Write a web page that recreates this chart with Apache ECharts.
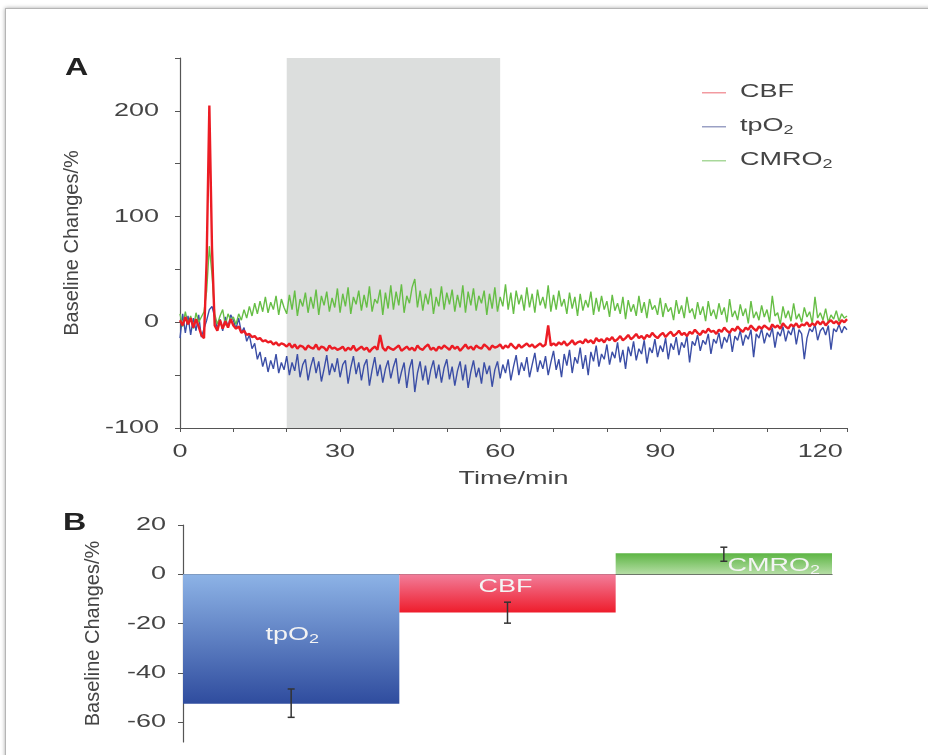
<!DOCTYPE html>
<html>
<head>
<meta charset="utf-8">
<script src="https://cdn.jsdelivr.net/npm/echarts@6/dist/echarts.min.js"></script>
<style>
  html, body { margin: 0; padding: 0; background: #fff; overflow: hidden; }
  #frame { position: absolute; left: 5px; top: 8px; width: 940px; height: 770px; border: 1px solid #b5b5b5; box-shadow: 0 0 4px rgba(0,0,0,0.35); }
  #chart { position: absolute; left: 0; top: 0; width: 928px; height: 755px; }
</style>
</head>
<body>
<div id="frame"></div>
<div id="chart"></div>
<script>
// ---------- Panel A data (sampled every 0.5 min, 0..125 min) ----------
const timeStepMin = 0.5;
const cbf = [
  2, -3, 5, -2, 4, -5, 3, -4, -12, -15, 60, 205, 70, -3, -8, 2, -6, 1, -5, 3,
  -3, -6, -4, -10, -8, -12, -11, -14, -13, -16, -15, -18, -17, -19, -18, -21, -19, -22, -20, -21,
  -23, -20, -24, -21, -25, -22, -23, -26, -22, -24, -25, -21, -26, -23, -24, -27, -22, -25, -24, -26,
  -25, -23, -27, -24, -26, -22, -27, -25, -23, -26, -24, -28, -25, -23, -26, -12, -24, -27, -23, -25,
  -26, -24, -22, -27, -25, -23, -26, -24, -27, -22, -25, -26, -23, -21, -26, -24, -27, -23, -25, -22,
  -24, -26, -22, -25, -23, -27, -24, -21, -25, -23, -26, -22, -24, -25, -21, -23, -26, -22, -24, -23,
  -21, -25, -22, -24, -20, -23, -25, -21, -24, -22, -20, -23, -21, -24, -22, -20, -23, -21, -3, -22,
  -20, -22, -19, -21, -18, -22, -20, -17, -21, -19, -18, -20, -16, -19, -17, -20, -15, -18, -16, -19,
  -15, -17, -14, -18, -16, -13, -17, -15, -12, -16, -14, -11, -15, -13, -16, -12, -14, -10, -13, -15,
  -12, -10, -14, -11, -9, -13, -11, -8, -12, -10, -13, -9, -11, -7, -10, -12, -8, -10, -6, -9,
  -8, -11, -7, -9, -5, -8, -10, -6, -8, -4, -7, -9, -5, -7, -3, -6, -8, -4, -6, -3,
  -5, -7, -2, -5, -3, -6, -1, -4, -6, -2, -4, -1, -5, -2, -3, 0, -4, -1, -3, 1,
  -2, 1, -3, 0, 2, -1, 1, -2, 2, 0, 3
];
const tpo2 = [
  -15, 8, -10, 6, -12, 4, -8, 7, -14, -6, 2, 12, 15, 5, -6, 3, -8, 5, -5, 7,
  2, -6, 4, -10, -5, -18, -12, -25, -20, -35, -28, -42, -33, -47, -36, -44, -30, -48, -38, -45,
  -32, -50, -38, -46, -30, -52, -40, -35, -55, -42, -33, -48, -37, -56, -44, -31, -50, -39, -47, -34,
  -52, -40, -36, -58, -43, -32, -49, -38, -55, -41, -35, -60, -45, -33, -51, -40, -57, -44, -36, -53,
  -42, -34, -58, -47, -38, -62, -44, -35, -66, -48, -37, -55, -41, -59, -45, -36, -53, -40, -57, -43,
  -35, -54, -42, -60, -46, -37, -55, -40, -62, -47, -36, -52, -43, -58, -38, -49, -41, -61, -45, -37,
  -53, -40, -48, -35, -55, -42, -31, -50, -38, -46, -33, -52, -40, -29, -47, -36, -44, -32, -50, -38,
  -27, -45, -35, -52, -30, -41, -26, -48, -33, -39, -24, -44, -31, -50, -28, -37, -22, -42, -30, -35,
  -21, -40, -28, -34, -19, -38, -26, -44, -23, -32, -18, -36, -25, -30, -17, -39, -24, -29, -16, -33,
  -22, -28, -15, -35, -20, -26, -14, -31, -19, -24, -13, -38, -18, -22, -12, -27, -17, -21, -11, -30,
  -16, -20, -10, -25, -14, -19, -9, -28, -13, -17, -8, -22, -12, -16, -7, -33, -11, -15, -6, -20,
  -10, -14, -5, -24, -9, -13, -4, -18, -8, -12, -3, -21, -7, -11, -35, -15, -6, -9, -2, -17,
  -8, -5, -12, -3, -26, -6, -9, -2, -10, -4, -7
];
const cmro2 = [
  8, -4, 10, -2, 6, -6, 9, 0, 5, 10, 30, 72, 45, 8, -2, 6, 12, -3, 8, 2,
  5, -2, 8, 2, 12, 4, 15, 6, 18, 8, 20, 10, 24, 9, 19, 12, 25, 7, 22, 14,
  8, 26, 12, 30, 6, 22, 15, 28, 9, 24, 13, 31, 7, 25, 16, 29, 10, 23, 14, 32,
  9, 27, 15, 33, 8, 24, 17, 30, 11, 26, 14, 34, 10, 22, 18, 31, 7, 28, 13, 35,
  12, 29, 16, 36, 9, 25, 18, 33, 41, 14, 30, 11, 27, 17, 32, 8, 24, 15, 34, 12,
  28, 17, 31, 10, 26, 14, 35, 9, 29, 16, 32, 11, 25, 18, 30, 7, 27, 13, 33, 10,
  24, 15, 36, 12, 28, 8, 30, 17, 26, 11, 33, 14, 27, 9, 31, 16, 24, 13, 35, 10,
  26, 12, 30, 15, 22, 8, 28, 13, 24, 6, 27, 11, 21, 14, 29, 7, 23, 10, 25, 12,
  20, 5, 26, 11, 18, 8, 24, 3, 21, 10, 17, 6, 25, 9, 19, 4, 22, 12, 16, 7,
  23, 5, 18, 10, 14, 2, 21, 8, 16, 4, 24, 9, 13, 3, 19, 7, 15, 1, 20, 6,
  12, 3, 18, 7, 14, 0, 22, 5, 11, 2, 17, 6, 13, -1, 20, 4, 10, 2, 16, 5,
  12, 0, 25, 6, 9, -2, 15, 4, 11, 1, 18, 3, 8, 0, 14, 5, 10, -1, 24, 4,
  9, 2, 13, 0, 7, 3, 11, 1, 8, 4, 6
];
const shadeStart = 20, shadeEnd = 60;
const xLabelValues = [0, 30, 60, 90, 120];
const yLabelValuesA = [-100, 0, 100, 200];
const seriesNames = ['CBF', 'tpO2', 'CMRO2'];

// ---------- Panel B data ----------
const barCategories = ['tpO2', 'CBF', 'CMRO2'];
const barMeans = [-52.5, -15.5, 8.5];
const barErrLow = [-58, -19.8, 5.3];
const barErrHigh = [-46.5, -11.3, 11];
const yTicksB = [20, 0, -20, -40, -60];

const FONT = 'Liberation Sans, Arial, Helvetica, sans-serif';
const TXT = '#444';
const AX = '#555';
const SX = 1.5;   // horizontal stretch of the reference's lettering
const FS = 18;

const toPairs = arr => arr.map((v, i) => [i * timeStepMin, v]);
const subName = n => n === 'tpO2' ? 'tpO{sub|2}' : (n === 'CMRO2' ? 'CMRO{sub|2}' : n);

const chart = echarts.init(document.getElementById('chart'), null, { renderer: 'canvas' });

const option = {
  animation: false,
  textStyle: { fontFamily: FONT },
  legend: {
    orient: 'vertical',
    left: 697,
    top: 87,
    itemGap: 32.5,
    itemWidth: 24,
    itemHeight: 1.5,
    icon: 'rect',
    data: [
      { name: 'CBF', itemStyle: { color: '#f29aa0' } },
      { name: 'tpO2', itemStyle: { color: '#9aa0c4' } },
      { name: 'CMRO2', itemStyle: { color: '#a8d89a' } }
    ],
    formatter: () => '',
    textStyle: { fontSize: 1 }
  },
  grid: [
    { left: 180, right: 81, top: 58, bottom: 327 },
    { left: 183, right: 96, top: 525, bottom: 13 }
  ],
  xAxis: [
    {
      gridIndex: 0, type: 'value', min: 0, max: 125, interval: 10,
      axisLine: { onZero: false, lineStyle: { color: AX, width: 1.2 } },
      axisTick: { show: true, length: 4, lineStyle: { color: AX } },
      axisLabel: { show: false },
      splitLine: { show: false }
    },
    {
      gridIndex: 1, type: 'category', data: barCategories,
      axisLine: { onZero: true, lineStyle: { color: AX, width: 1.2 } },
      axisTick: { show: false },
      axisLabel: { show: false },
      splitLine: { show: false }
    }
  ],
  yAxis: [
    {
      gridIndex: 0, type: 'value', min: -100, max: 250, interval: 50,
      name: 'Baseline Changes/%', nameLocation: 'middle', nameGap: 98,
      nameTextStyle: { fontSize: 20, color: TXT, fontFamily: FONT },
      axisLine: { show: true, lineStyle: { color: AX, width: 1.2 } },
      axisTick: { show: true, length: 5, lineStyle: { color: AX } },
      axisLabel: { show: false },
      splitLine: { show: false }
    },
    {
      gridIndex: 1, type: 'value', min: -68, max: 20,
      name: 'Baseline Changes/%', nameLocation: 'middle', nameGap: 80,
      nameTextStyle: { fontSize: 20, color: TXT, fontFamily: FONT },
      axisLine: { show: true, lineStyle: { color: AX, width: 1.2 } },
      axisTick: { show: true, length: 5, customValues: yTicksB, lineStyle: { color: AX } },
      axisLabel: { show: false },
      splitLine: { show: false }
    }
  ],
  series: [
    {
      name: 'shade', type: 'line', xAxisIndex: 0, yAxisIndex: 0, data: [], z: 0, silent: true,
      markArea: { silent: true, itemStyle: { color: '#dcdedd' }, data: [[{ xAxis: shadeStart }, { xAxis: shadeEnd }]] }
    },
    {
      name: 'tpO2', type: 'line', xAxisIndex: 0, yAxisIndex: 0, data: toPairs(tpo2), z: 3,
      showSymbol: false, symbol: 'none', lineStyle: { color: '#3b4ea6', width: 1.4 }, itemStyle: { color: '#3b4ea6' }
    },
    {
      name: 'CMRO2', type: 'line', xAxisIndex: 0, yAxisIndex: 0, data: toPairs(cmro2), z: 4,
      showSymbol: false, symbol: 'none', lineStyle: { color: '#66be46', width: 1.4 }, itemStyle: { color: '#66be46' }
    },
    {
      name: 'CBF', type: 'line', xAxisIndex: 0, yAxisIndex: 0, data: toPairs(cbf), z: 5,
      showSymbol: false, symbol: 'none', lineStyle: { color: '#ec1c24', width: 2.4 }, itemStyle: { color: '#ec1c24' }
    },
    {
      name: 'bars', type: 'bar', xAxisIndex: 1, yAxisIndex: 1, barWidth: '100%', barCategoryGap: 0, z: 2,
      data: [
        { value: barMeans[0],
          itemStyle: { color: new echarts.graphic.LinearGradient(0, 0, 0, 1, [{ offset: 0, color: '#8db3e6' }, { offset: 1, color: '#2f4c9e' }]) } },
        { value: barMeans[1],
          itemStyle: { color: new echarts.graphic.LinearGradient(0, 0, 0, 1, [{ offset: 0, color: '#f27d9a' }, { offset: 1, color: '#ee1c2b' }]) } },
        { value: barMeans[2],
          itemStyle: { color: new echarts.graphic.LinearGradient(0, 0, 0, 1, [{ offset: 0, color: '#5db544' }, { offset: 1, color: '#b6dea6' }]) } }
      ]
    },
    {
      name: 'errors', type: 'custom', xAxisIndex: 1, yAxisIndex: 1, z: 6,
      data: barCategories.map((c, i) => [i, barErrLow[i], barErrHigh[i]]),
      renderItem: (params, api) => {
        const p1 = api.coord([api.value(0), api.value(1)]);
        const p2 = api.coord([api.value(0), api.value(2)]);
        const cap = 3.5;
        const st = { stroke: '#333', lineWidth: 1.5 };
        return { type: 'group', children: [
          { type: 'line', shape: { x1: p1[0], y1: p1[1], x2: p2[0], y2: p2[1] }, style: st },
          { type: 'line', shape: { x1: p1[0] - cap, y1: p1[1], x2: p1[0] + cap, y2: p1[1] }, style: st },
          { type: 'line', shape: { x1: p2[0] - cap, y1: p2[1], x2: p2[0] + cap, y2: p2[1] }, style: st }
        ] };
      }
    }
  ]
};
chart.setOption(option);

// ---------- stretched lettering, placed through the axes' own scales ----------
const subRich = (color) => ({ sub: { fontSize: 12, fill: color, fontFamily: FONT, padding: [9, 0, 0, 0] } });
function txt(text, x, y, align, opts = {}) {
  const color = opts.color || TXT;
  return {
    type: 'text', x: x, y: y, scaleX: opts.sx || SX, z: 100,
    style: {
      text: text, align: align, verticalAlign: 'middle',
      font: (opts.weight || 'normal') + ' ' + (opts.size || FS) + 'px ' + FONT,
      fill: color, rich: subRich(color)
    }
  };
}
const g = [];
g.push(txt('A', 65, 69, 'left', { weight: 'bold', size: 23, sx: 1.4, color: '#222' }));
g.push(txt('B', 63, 524, 'left', { weight: 'bold', size: 23, sx: 1.4, color: '#222' }));

xLabelValues.forEach(v => {
  const p = chart.convertToPixel({ gridIndex: 0 }, [v, -100]);
  g.push(txt(String(v), p[0], p[1] + 24, 'center'));
});
yLabelValuesA.forEach(v => {
  const p = chart.convertToPixel({ gridIndex: 0 }, [0, v]);
  g.push(txt(String(v), p[0] - 21, p[1], 'right'));
});
const midA = chart.convertToPixel({ gridIndex: 0 }, [62.5, -100]);
g.push(txt('Time/min', midA[0], midA[1] + 51, 'center'));

yTicksB.forEach(v => {
  const p = chart.convertToPixel({ gridIndex: 1 }, [0, v]);
  g.push(txt(String(v), 166, p[1], 'right'));
});

// legend labels beside the legend's own icons
const legendY = [92, 126, 160];
seriesNames.forEach((n, i) => g.push(txt(subName(n), 740, legendY[i], 'left')));

// bar labels
const barLabelOffsets = [[1, -4], [-2, -6], [50, 2]];
barCategories.forEach((c, i) => {
  const p = chart.convertToPixel({ gridIndex: 1 }, [i, barMeans[i] / 2]);
  g.push(txt(subName(c), p[0] + barLabelOffsets[i][0], p[1] + barLabelOffsets[i][1], 'center', { color: '#f4f4f4' }));
});

chart.setOption({ graphic: g });
</script>
</body>
</html>
